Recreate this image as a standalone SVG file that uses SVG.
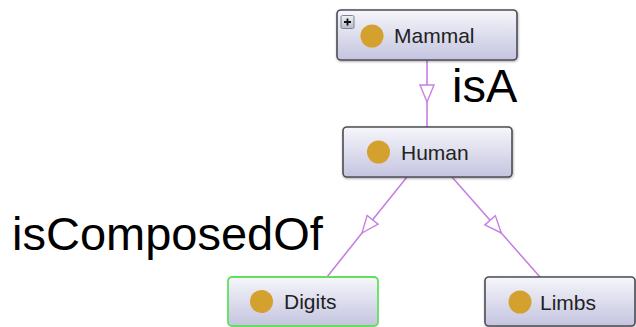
<svg xmlns="http://www.w3.org/2000/svg" width="636" height="327" viewBox="0 0 636 327">
<defs>
  <linearGradient id="boxfill" x1="0" y1="0" x2="0" y2="1">
    <stop offset="0" stop-color="#f6f6fb"/>
    <stop offset="1" stop-color="#c4c4e0"/>
  </linearGradient>
  <linearGradient id="iconfill" x1="0" y1="0" x2="0" y2="1">
    <stop offset="0" stop-color="#f0f2f6"/>
    <stop offset="1" stop-color="#b8bcc8"/>
  </linearGradient>
  <marker id="tri" markerUnits="userSpaceOnUse" markerWidth="24" markerHeight="20" viewBox="-20 -10 24 20" refX="0" refY="0" orient="auto">
    <path d="M0,0 L-17,-7 L-17,7 Z" fill="#ffffff" stroke="#c77fe2" stroke-width="1.4" stroke-linejoin="miter"/>
  </marker>
  <filter id="sh" x="-5%" y="-10%" width="110%" height="130%">
    <feDropShadow dx="0.5" dy="1" stdDeviation="0.8" flood-color="#000" flood-opacity="0.35"/>
  </filter>
</defs>
<style>
  .box { fill: url(#boxfill); stroke: #4d4d55; stroke-width: 1.6; }
  .sel { stroke: #5fe05f; stroke-width: 1.8; }
  .dot { fill: #d4a02e; }
  .name { font-family: "Liberation Sans", Arial, sans-serif; font-size: 21px; fill: #222; }
  .lbl { font-family: "Liberation Sans", Arial, sans-serif; font-size: 47px; fill: #000; }
  .edge { fill: none; stroke: #c77fe2; stroke-width: 1.6; marker-mid: url(#tri); }
</style>

<g id="connectors">
  <path class="edge" d="M427,60 L427,102 L427,127"/>
  <path class="edge" d="M407,177 L362,233 L327,277"/>
  <path class="edge" d="M452,177 L501.3,233 L540,277"/>
</g>

<g id="labels">
  <text class="lbl" x="452" y="102">isA</text>
  <text class="lbl" x="12" y="250">isComposedOf</text>
</g>

<g id="mammal">
  <rect class="box" x="337" y="10" width="180" height="50" rx="4" filter="url(#sh)"/>
  <rect x="341" y="15.5" width="13" height="13" rx="1.5" fill="url(#iconfill)" stroke="#7a8496" stroke-width="1"/>
  <path d="M344,22 H351 M347.5,18.5 V25.5" stroke="#111" stroke-width="1.8"/>
  <circle class="dot" cx="372" cy="36" r="11.5"/>
  <text class="name" x="394" y="43">Mammal</text>
</g>

<g id="human">
  <rect class="box" x="343" y="127" width="169" height="50" rx="4" filter="url(#sh)"/>
  <circle class="dot" cx="378.5" cy="152" r="11.5"/>
  <text class="name" x="401" y="160">Human</text>
</g>

<g id="digits">
  <rect class="box sel" x="228" y="277" width="150" height="49" rx="4"/>
  <circle class="dot" cx="261.5" cy="301.5" r="11.5"/>
  <text class="name" x="284" y="309">Digits</text>
</g>

<g id="limbs">
  <rect class="box" x="485" y="277" width="150" height="49" rx="4" filter="url(#sh)"/>
  <circle class="dot" cx="520" cy="302" r="11.5"/>
  <text class="name" x="540" y="310">Limbs</text>
</g>
</svg>
